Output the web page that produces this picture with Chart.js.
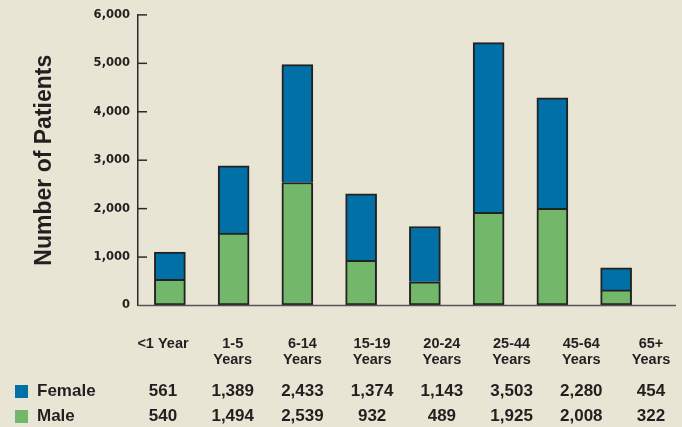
<!DOCTYPE html>
<html>
<head>
<meta charset="utf-8">
<style>
  html, body { margin: 0; padding: 0; background: #e8e5d4; }
  #wrap { width: 682px; height: 427px; position: relative; }
</style>
<script src="https://cdn.jsdelivr.net/npm/chart.js@4/dist/chart.umd.min.js"></script>
</head>
<body>
<div id="wrap"><canvas id="c" width="682" height="427"></canvas></div>
<script>
// ---- data ----
const categories = [["<1 Year"], ["1-5", "Years"], ["6-14", "Years"], ["15-19", "Years"], ["20-24", "Years"], ["25-44", "Years"], ["45-64", "Years"], ["65+", "Years"]];
const seriesNames = ["Female", "Male"];
const female = [561, 1389, 2433, 1374, 1143, 3503, 2280, 454];
const male = [540, 1494, 2539, 932, 489, 1925, 2008, 322];
const yTickValues = [0, 1000, 2000, 3000, 4000, 5000, 6000];
const yTitle = "Number of Patients";

const INK = '#231f20';
const BLUE = '#0170a7';
const GREEN = '#72b76a';
const fmt = v => v.toLocaleString('en-US');

const decor = {
  id: 'decor',
  beforeDatasetsDraw(chart) {
    const { ctx, chartArea: a, scales: { y } } = chart;
    ctx.save();
    ctx.strokeStyle = '#2b2b2b';
    ctx.lineWidth = 1.5;
    y.ticks.forEach(t => {
      if (t.value === 0) return;
      const py = y.getPixelForValue(t.value);
      ctx.beginPath();
      ctx.moveTo(a.left, py);
      ctx.lineTo(a.left + 9, py);
      ctx.stroke();
    });
    ctx.restore();
  },
  afterDatasetsDraw(chart) {
    const { ctx, chartArea: a, scales: { y } } = chart;
    ctx.save();
    // baseline
    const y0 = y.getPixelForValue(0);
    ctx.strokeStyle = '#555';
    ctx.lineWidth = 1.5;
    ctx.beginPath();
    ctx.moveTo(a.left, y0);
    ctx.lineTo(a.right + 28, y0);
    ctx.stroke();

    // column layout for labels and table
    const x0 = a.left + 25, x1 = chart.width - 31;
    const step = (x1 - x0) / (categories.length - 1);
    ctx.fillStyle = INK;
    ctx.textAlign = 'center';
    ctx.textBaseline = 'middle';
    ctx.font = 'bold 14.5px "Liberation Sans", Arial, sans-serif';
    categories.forEach((lines, i) => {
      lines.forEach((ln, j) => ctx.fillText(ln, x0 + i * step, 344 + j * 16));
    });
    // table rows
    const rows = [
      { name: seriesNames[0], vals: female, color: chart.data.datasets[1].backgroundColor, y: 391.5 },
      { name: seriesNames[1], vals: male, color: chart.data.datasets[0].backgroundColor, y: 416.5 }
    ];
    ctx.font = 'bold 17px "Liberation Sans", Arial, sans-serif';
    rows.forEach(r => {
      ctx.fillStyle = r.color;
      ctx.fillRect(15, r.y - 6.5, 13, 13);
      ctx.fillStyle = INK;
      ctx.textAlign = 'left';
      ctx.fillText(r.name, 37, r.y);
      ctx.textAlign = 'center';
      r.vals.forEach((v, i) => ctx.fillText(fmt(v), x0 + i * step, r.y));
    });
    ctx.restore();
  }
};

new Chart(document.getElementById('c'), {
  type: 'bar',
  data: {
    labels: categories,
    datasets: [
      { label: seriesNames[1], data: male, backgroundColor: GREEN, borderColor: '#222', borderWidth: 2, borderSkipped: false, barThickness: 31 },
      { label: seriesNames[0], data: female, backgroundColor: BLUE, borderColor: '#222', borderWidth: 2, borderSkipped: 'bottom', barThickness: 31 }
    ]
  },
  options: {
    responsive: false,
    animation: false,
    layout: { padding: { left: 0, right: 34, top: 14, bottom: 0 } },
    plugins: { legend: { display: false }, tooltip: { enabled: false } },
    scales: {
      x: {
        stacked: true,
        grid: { display: false, drawTicks: false },
        border: { display: false },
        ticks: { display: false },
        afterFit: s => { s.height = 121.5; }
      },
      y: {
        stacked: true,
        min: 0, max: 6000,
        afterBuildTicks: s => { s.ticks = yTickValues.map(v => ({ value: v })); },
        grid: { display: true, drawOnChartArea: false, drawTicks: false },
        border: { display: true, color: '#2b2b2b', width: 1.5 },
        ticks: {
          padding: 8,
          color: INK,
          font: { family: '"DejaVu Sans", Verdana, sans-serif', weight: 'bold', size: 11.5 },
          callback: v => fmt(v)
        },
        title: {
          display: true,
          text: yTitle,
          color: INK,
          font: { family: '"Liberation Sans", Arial, sans-serif', weight: 'bold', size: 23 },
          padding: { top: 31, bottom: 0 }
        },
        afterFit: s => { s.width = 138; }
      }
    }
  },
  plugins: [decor]
});
</script>
</body>
</html>
